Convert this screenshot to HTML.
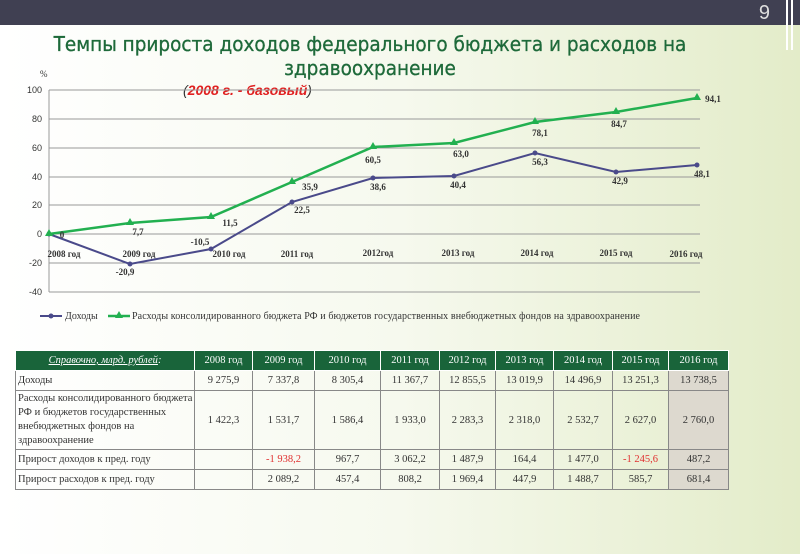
<!DOCTYPE html>
<html><head><meta charset="utf-8"><style>
body{margin:0;width:800px;height:554px;overflow:hidden;font-family:"Liberation Serif",serif;background:linear-gradient(90deg,#ffffff 0%,#f6f9ee 50%,#e3ecc9 100%);position:relative}
.top{position:absolute;left:0;top:0;width:800px;height:25px;background:#404052}
.num{position:absolute;right:30px;top:2px;color:#ddd;font:20px "Liberation Sans",sans-serif}
.vb{position:absolute;top:0;width:2px;height:50px;background:#fff}
.title{position:absolute;left:0;width:740px;text-align:center;top:32px;color:#1e6a3a;font:20.5px "DejaVu Sans Condensed","DejaVu Sans",sans-serif;font-stretch:condensed;line-height:24px;-webkit-text-stroke:0.3px #1e6a3a}
table{position:absolute;left:15px;top:350px;border-collapse:collapse;font-size:10.5px;color:#333}
td{border:1px solid #888;text-align:center;padding:0;height:19px}
tr.h td{background:#19643a;color:#fff;border:1px solid #fff;height:19px}
td.l{text-align:left;padding-left:2px}
td.g{background:#ddd9cf}
.r{color:#e03030}
</style></head><body>
<div class="top"><div class="num">9</div></div>
<div class="vb" style="left:786px"></div><div class="vb" style="left:791px"></div>
<div class="title">Темпы прироста доходов федерального бюджета и расходов на<br>здравоохранение</div>
<svg width="800" height="554" style="position:absolute;left:0;top:0" font-family="Liberation Serif,serif">
<text x="183" y="95" font-family="Liberation Sans,sans-serif" font-size="14" font-style="italic" fill="#333">(<tspan fill="#e02020" font-weight="bold">2008 г. - базовый</tspan>)</text>
<text x="40" y="77" font-size="9" fill="#333">%</text>
<g stroke="#999" stroke-width="1">
<line x1="49" y1="90" x2="700" y2="90"/><line x1="49" y1="119" x2="700" y2="119"/><line x1="49" y1="148" x2="700" y2="148"/><line x1="49" y1="177" x2="700" y2="177"/><line x1="49" y1="205" x2="700" y2="205"/><line x1="49" y1="234" x2="700" y2="234"/><line x1="49" y1="263" x2="700" y2="263"/><line x1="49" y1="292" x2="700" y2="292"/>
<line x1="49" y1="90" x2="49" y2="292"/></g>
<g font-family="Liberation Sans,sans-serif" font-size="9" fill="#333" text-anchor="end">
<text x="42" y="93">100</text><text x="42" y="122">80</text><text x="42" y="151">60</text><text x="42" y="180">40</text><text x="42" y="208">20</text><text x="42" y="237">0</text><text x="42" y="266">-20</text><text x="42" y="295">-40</text></g>
<g font-size="9" font-weight="bold" fill="#333" text-anchor="middle">
<text x="64" y="257">2008 год</text><text x="139" y="257">2009 год</text><text x="229" y="257">2010 год</text><text x="297" y="257">2011 год</text><text x="378" y="256">2012год</text><text x="458" y="256">2013 год</text><text x="537" y="256">2014 год</text><text x="616" y="256">2015 год</text><text x="686" y="257">2016 год</text></g>
<polyline fill="none" stroke="#4a4a8a" stroke-width="2" points="49,234 130,264 211,249 292,202 373,178 454,176 535,153 616,172 697,165"/>
<g fill="#4a4a8a"><circle cx="49" cy="234" r="2.5"/><circle cx="130" cy="264" r="2.5"/><circle cx="211" cy="249" r="2.5"/><circle cx="292" cy="202" r="2.5"/><circle cx="373" cy="178" r="2.5"/><circle cx="454" cy="176" r="2.5"/><circle cx="535" cy="153" r="2.5"/><circle cx="616" cy="172" r="2.5"/><circle cx="697" cy="165" r="2.5"/></g>
<polyline fill="none" stroke="#22b050" stroke-width="2.5" points="49,234 130,223 211,217 292,182 373,147 454,143 535,122 616,112 697,98"/>
<g fill="#22b050">
<path d="M49,229l4,7h-8z"/><path d="M130,218l4,7h-8z"/><path d="M211,212l4,7h-8z"/><path d="M292,177l4,7h-8z"/><path d="M373,142l4,7h-8z"/><path d="M454,138l4,7h-8z"/><path d="M535,117l4,7h-8z"/><path d="M616,107l4,7h-8z"/><path d="M697,93l4,7h-8z"/></g>
<g font-size="9" font-weight="bold" fill="#333" text-anchor="middle">
<text x="62" y="238">0</text><text x="125" y="275">-20,9</text><text x="200" y="245">-10,5</text><text x="302" y="213">22,5</text><text x="378" y="190">38,6</text><text x="458" y="188">40,4</text><text x="540" y="165">56,3</text><text x="620" y="184">42,9</text><text x="702" y="177">48,1</text>
<text x="138" y="235">7,7</text><text x="230" y="226">11,5</text><text x="310" y="190">35,9</text><text x="373" y="163">60,5</text><text x="461" y="157">63,0</text><text x="540" y="136">78,1</text><text x="619" y="127">84,7</text><text x="713" y="102">94,1</text></g>
<line x1="40" y1="316" x2="62" y2="316" stroke="#4a4a8a" stroke-width="2"/><circle cx="51" cy="316" r="2.5" fill="#4a4a8a"/>
<text x="65" y="319" font-size="10" fill="#333">Доходы</text>
<line x1="108" y1="316" x2="130" y2="316" stroke="#22b050" stroke-width="2.5"/><path d="M119,311l4,7h-8z" fill="#22b050"/>
<text x="132" y="319" font-size="10" fill="#333" textLength="508">Расходы консолидированного бюджета РФ и бюджетов государственных внебюджетных фондов на  здравоохранение</text>
</svg>
<table>
<tr class="h"><td style="width:178px"><i><u>Справочно, млрд. рублей</u>:</i></td><td style="width:57px">2008 год</td><td style="width:61px">2009 год</td><td style="width:65px">2010 год</td><td style="width:58px">2011 год</td><td style="width:55px">2012 год</td><td style="width:57px">2013 год</td><td style="width:58px">2014 год</td><td style="width:55px">2015 год</td><td style="width:59px">2016 год</td></tr>
<tr><td class="l">Доходы</td><td>9 275,9</td><td>7 337,8</td><td>8 305,4</td><td>11 367,7</td><td>12 855,5</td><td>13 019,9</td><td>14 496,9</td><td>13 251,3</td><td class="g">13 738,5</td></tr>
<tr><td class="l" style="height:58px;line-height:14px">Расходы консолидированного бюджета РФ и бюджетов государственных внебюджетных фондов на здравоохранение</td><td>1 422,3</td><td>1 531,7</td><td>1 586,4</td><td>1 933,0</td><td>2 283,3</td><td>2 318,0</td><td>2 532,7</td><td>2 627,0</td><td class="g">2 760,0</td></tr>
<tr><td class="l">Прирост доходов к пред. году</td><td></td><td class="r">-1 938,2</td><td>967,7</td><td>3 062,2</td><td>1 487,9</td><td>164,4</td><td>1 477,0</td><td class="r">-1 245,6</td><td class="g">487,2</td></tr>
<tr><td class="l">Прирост расходов к пред. году</td><td></td><td>2 089,2</td><td>457,4</td><td>808,2</td><td>1 969,4</td><td>447,9</td><td>1 488,7</td><td>585,7</td><td class="g">681,4</td></tr>
</table>
</body></html>
